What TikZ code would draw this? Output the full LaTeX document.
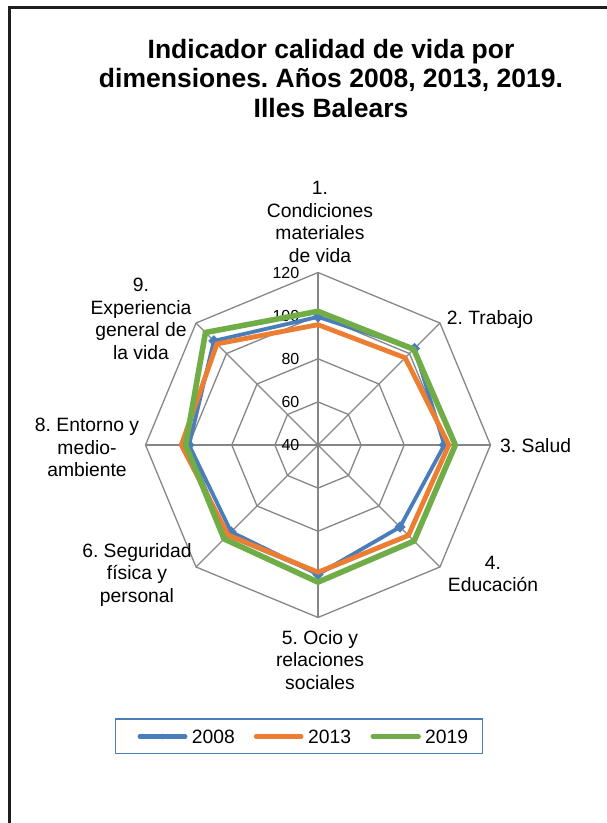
\documentclass[tikz,border=0pt]{standalone}
\usepackage{fontspec}
\setmainfont{Liberation Sans}
\usepackage[dvipsnames,svgnames]{xcolor}
\usepackage{tikz}
\usetikzlibrary{positioning,shapes.geometric}
\frenchspacing
\definecolor{c2008}{RGB}{74,126,187}
\definecolor{c2013}{RGB}{237,125,49}
\definecolor{c2019}{RGB}{112,173,71}
\definecolor{gris}{RGB}{134,134,134}
\tikzset{gridline/.style={draw=gris,line width=1.3pt},
  s2008/.style={draw=c2008,line width=3.8pt,line join=miter},
  s2013/.style={draw=c2013,line width=4.8pt,line join=miter},
  s2019/.style={draw=c2019,line width=5.6pt,line join=miter},
  marca/.style={diamond,fill=c2008,inner sep=0pt,minimum size=11.5pt},
  etiqueta/.style={align=center,inner sep=0pt,font=\fontsize{19.3}{22.5}\selectfont},
  eje/.style={anchor=east,inner sep=0pt,font=\fontsize{16}{18}\selectfont},
  leyenda/.style={line width=4.3pt,line cap=round},
  titulo/.style={align=center,inner sep=0pt,font=\bfseries\fontsize{26.5}{29.5}\selectfont}}

\begin{document}
\begin{tikzpicture}[x=1pt,y=1pt,declare function={rv(\v)=(\v-40)*2.156;}]
  \useasboundingbox (-318,-378) rectangle (288,445);
  \draw[line width=2.5pt,black!88] (-308.5,-382) -- (-308.5,437.5) -- (292,437.5); % 边框
  \node[titulo] (titulo) at (13,366.5) {Indicador calidad de vida por\\dimensiones. Años 2008, 2013, 2019.\\Illes Balears};
  % 网格
  \coordinate (O) at (0,0);
  \foreach \v in {60,80,100,120}
    \draw[gridline] (90:{rv(\v)}) \foreach \a in {45,0,...,-225} {-- (\a:{rv(\v)})} -- cycle;
  \foreach \a [count=\i] in {90,45,...,-225}
    \draw[gridline] (O) -- (\a:{rv(120)}) coordinate (v\i);
  \foreach \v in {40,60,...,120}
    \node[eje] (n\v) at (-18.5,{rv(\v)}) {\v};
  % 数据
  \foreach \v [count=\i from 0] in {99.4,103.3,98.6,93.8,100,97,99.8,108.3}
    \coordinate (b\i) at ({90-45*\i}:{rv(\v)});
  \foreach \v [count=\i from 0] in {95.8,97.2,100.7,99.3,99,99,103.4,106.3}
    \coordinate (o\i) at ({90-45*\i}:{rv(\v)});
  \foreach \v [count=\i from 0] in {102,102.8,103.7,103,103.6,101.6,101.4,113.8}
    \coordinate (g\i) at ({90-45*\i}:{rv(\v)});
  \draw[s2008] (b0) -- (b1) -- (b2) -- (b3) -- (b4) -- (b5) -- (b6) -- (b7) -- cycle;
  \foreach \i in {0,...,7}
    \node[marca] (m\i) at (b\i) {};
  \draw[s2013] (o0) -- (o1) -- (o2) -- (o3) -- (o4) -- (o5) -- (o6) -- (o7) -- cycle;
  \draw[s2019] (g0) -- (g1) -- (g2) -- (g3) -- (g4) -- (g5) -- (g6) -- (g7) -- cycle;
  % 标签
  \node[etiqueta] (d1) at (2,223) {1.\\Condiciones\\materiales\\de vida};
  \node[etiqueta] (d2) at (172,125) {2. Trabajo};
  \node[etiqueta,anchor=west] (d3) at (182,-1) {3. Salud};
  \node[etiqueta] (d4) at (175,-129) {4.\\Educación};
  \node[etiqueta] (d5) at (2,-215) {5. Ocio y\\relaciones\\sociales};
  \node[etiqueta] (d6) at (-181,-130) {6. Seguridad\\física y\\personal};
  \node[etiqueta] (d8) at (-231,-2.5) {8. Entorno y\\medio-\\ambiente};
  \node[etiqueta] (d9) at (-177,126) {9.\\Experiencia\\general de\\la vida};
  % 图例
  \node[draw=c2008,line width=1.3pt,minimum width=366.6pt,minimum height=34.3pt,inner sep=0pt] (caja) at (-19,-291.2) {};
  \coordinate (l1a) at (-178.3,-291.5); \coordinate (l1b) at (-132.7,-291.5);
  \coordinate (l2a) at (-62,-291.5);    \coordinate (l2b) at (-16.7,-291.5);
  \coordinate (l3a) at (54.7,-291.5);   \coordinate (l3b) at (100.7,-291.5);
  \draw[leyenda,c2008] (l1a) -- (l1b);
  \node[marca,minimum size=6pt] (lm) at (-155.5,-291.5) {};
  \draw[leyenda,c2013] (l2a) -- (l2b);
  \draw[leyenda,c2019] (l3a) -- (l3b);
  \node[etiqueta,right=6.4pt of l1b] (t2008) {2008};
  \node[etiqueta,right=6.7pt of l2b] (t2013) {2013};
  \node[etiqueta,right=6.3pt of l3b] (t2019) {2019};
\end{tikzpicture}
\end{document}
